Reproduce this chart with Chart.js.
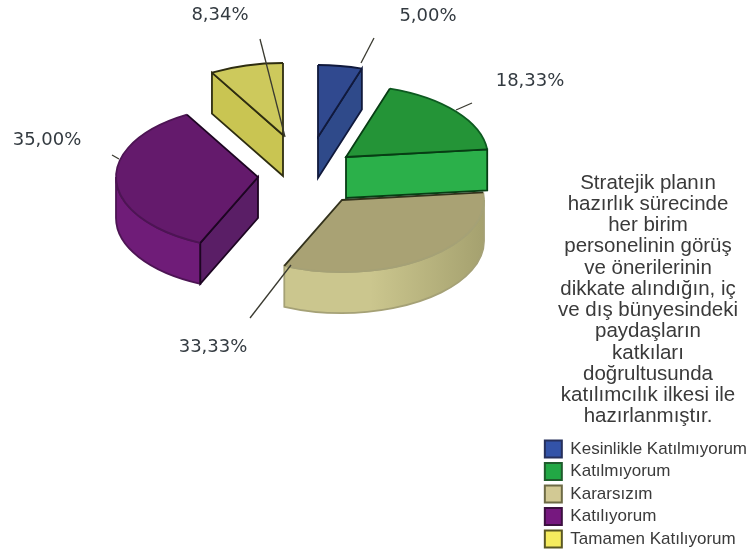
<!DOCTYPE html>
<html>
<head>
<meta charset="utf-8">
<style>
  html, body { margin: 0; background: #fff; }
  canvas { display: block; }
</style>
<script src="https://cdn.jsdelivr.net/npm/chart.js@4"></script>
</head>
<body>
<canvas id="pie" width="747" height="553"></canvas>
<script>
const categories = ["Kesinlikle Katılmıyorum", "Katılmıyorum", "Kararsızım", "Katılıyorum", "Tamamen Katılıyorum"];
const percentages = [5.00, 18.33, 33.33, 35.00, 8.34];
const titleLines = [
  "Stratejik planın", "hazırlık sürecinde", "her birim", "personelinin görüş",
  "ve önerilerinin", "dikkate alındığın, iç", "ve dış bünyesindeki", "paydaşların",
  "katkıları", "doğrultusunda", "katılımcılık ilkesi ile", "hazırlanmıştır."
];

// colours per slice
const legendColors = ["#3353a8", "#22a845", "#d2c994", "#76187f", "#f6ec5e"];
const legendBorders = ["#26305c", "#1f5c2c", "#6d6a45", "#3c1040", "#5a5722"];
const faceColors = ["#30498f", "#249437", "#a9a274", "#641a6c", "#cdc95c"];
const cutWallColors = ["#2f4a8a", "#2bb04a", "#a9a274", "#5a1e66", "#c9c552"];
const outerWallColors = ["#2f4a8a", "#2bb04a", "#cbc68e", "#6f1c78", "#c9c552"];
const edgeColors = ["#10193c", "#073d14", "#33321c", "#1d0522", "#2e2d10"];
const arcEdgeColors = ["#10193c", "#0d5a20", "#a5a176", "#4d1454", "#2e2d10"];

// how far each slice is pulled out of the pie, in px
const explodeX = [11, 39, 35, -49, -24];
const explodeY = [-33, -13, 30, 7, -35];

// percentage labels and their leader lines
const labelX = [428, 530, 213, 47, 220];
const labelY = [16, 81, 347, 140, 15];
const leaderLines = [
  [374, 38, 361, 63],
  [472, 103, 456, 110],
  [250, 318, 291, 265],
  [112, 155, 119, 159],
  [260, 39, 285, 137]
];

const pieCenter = { x: 307, y: 170 };
const pieRadius = 142;
const tilt = 0.507;
const depth = 41;
const drawOrder = [2, 3, 4, 0, 1];

function sliceFace(ctx, x, y, arc) {
  ctx.beginPath();
  ctx.moveTo(x, y);
  ctx.ellipse(x, y, arc.outerRadius, arc.outerRadius * tilt, 0, arc.startAngle, arc.endAngle);
  ctx.closePath();
}

function cutWall(ctx, x, y, arc, angle, i) {
  const px = x + arc.outerRadius * Math.cos(angle);
  const py = y + arc.outerRadius * tilt * Math.sin(angle);
  ctx.beginPath();
  ctx.moveTo(x, y);
  ctx.lineTo(px, py);
  ctx.lineTo(px, py + depth);
  ctx.lineTo(x, y + depth);
  ctx.closePath();
  ctx.fillStyle = cutWallColors[i];
  ctx.fill();
  ctx.strokeStyle = edgeColors[i];
  ctx.stroke();
}

function outerWall(ctx, x, y, arc, i) {
  const a0 = Math.max(arc.startAngle, 0);
  const a1 = Math.min(arc.endAngle, Math.PI);
  if (a1 <= a0) return;
  const r = arc.outerRadius;
  ctx.beginPath();
  ctx.ellipse(x, y, r, r * tilt, 0, a0, a1);
  ctx.ellipse(x, y + depth, r, r * tilt, 0, a1, a0, true);
  ctx.closePath();
  const shade = ctx.createLinearGradient(x - r, 0, x + r, 0);
  shade.addColorStop(0, outerWallColors[i]);
  shade.addColorStop(0.6, outerWallColors[i]);
  shade.addColorStop(1, i === 2 ? "#a5a16f" : outerWallColors[i]);
  ctx.fillStyle = shade;
  ctx.fill();
  ctx.strokeStyle = arcEdgeColors[i];
  ctx.stroke();
}

function drawSlice(ctx, arc, i) {
  const x = arc.x + explodeX[i];
  const y = arc.y + explodeY[i];
  ctx.lineWidth = 1.8;

  // only walls that face the viewer get painted
  outerWall(ctx, x, y, arc, i);
  if (Math.cos(arc.startAngle) < -0.01) cutWall(ctx, x, y, arc, arc.startAngle, i);
  if (Math.cos(arc.endAngle) > 0.01) cutWall(ctx, x, y, arc, arc.endAngle, i);

  sliceFace(ctx, x, y, arc);
  ctx.fillStyle = faceColors[i];
  ctx.fill();

  // rim of the top face, softer than the straight cut edges
  ctx.beginPath();
  ctx.ellipse(x, y, arc.outerRadius, arc.outerRadius * tilt, 0, arc.startAngle, arc.endAngle);
  ctx.strokeStyle = arcEdgeColors[i];
  ctx.stroke();

  ctx.beginPath();
  ctx.moveTo(x + arc.outerRadius * Math.cos(arc.startAngle), y + arc.outerRadius * tilt * Math.sin(arc.startAngle));
  ctx.lineTo(x, y);
  ctx.lineTo(x + arc.outerRadius * Math.cos(arc.endAngle), y + arc.outerRadius * tilt * Math.sin(arc.endAngle));
  ctx.strokeStyle = edgeColors[i];
  ctx.stroke();
}

const tiltedPie = {
  id: "tiltedPie",
  afterLayout(chart) {
    // the legend sits in the corner, so the pie keeps its own box
    const area = chart.chartArea;
    area.left = 0;
    area.top = 0;
    area.right = pieCenter.x * 2;
    area.bottom = pieCenter.y * 2;
    area.width = area.right;
    area.height = area.bottom;

    // nudge the legend into the right margin
    chart.legend.left += 10;
    chart.legend.right += 10;
  },
  beforeDatasetsDraw(chart) {
    const ctx = chart.ctx;
    const arcs = chart.getDatasetMeta(0).data;
    ctx.save();
    drawOrder.forEach(i => drawSlice(ctx, arcs[i], i));

    ctx.strokeStyle = "#3a3a30";
    ctx.lineWidth = 1.3;
    leaderLines.forEach(l => {
      ctx.beginPath();
      ctx.moveTo(l[0], l[1]);
      ctx.lineTo(l[2], l[3]);
      ctx.stroke();
    });

    ctx.fillStyle = "#333a40";
    ctx.font = '18px "DejaVu Sans"';
    ctx.textAlign = "center";
    ctx.textBaseline = "middle";
    percentages.forEach((v, i) => {
      ctx.fillText(v.toFixed(2).replace(".", ",") + "%", labelX[i], labelY[i]);
    });

    // wrapped caption above the legend
    ctx.fillStyle = "#3a3a3a";
    ctx.font = '20.5px "Liberation Sans"';
    titleLines.forEach((line, i) => {
      ctx.fillText(line, 648, 183 + i * 21.25);
    });
    ctx.restore();
    return false;
  }
};

new Chart(document.getElementById("pie"), {
  type: "pie",
  data: {
    labels: categories,
    datasets: [{
      data: percentages,
      backgroundColor: legendColors,
      borderColor: legendBorders,
      borderWidth: 2
    }]
  },
  options: {
    responsive: false,
    animation: false,
    radius: pieRadius,
    plugins: {
      tooltip: { enabled: false },
      legend: {
        position: "right",
        align: "end",
        labels: {
          boxWidth: 17,
          boxHeight: 17,
          padding: 5.5,
          color: "#3a3a3a",
          font: { family: "Liberation Sans", size: 17 }
        }
      }
    }
  },
  plugins: [tiltedPie]
});
</script>
</body>
</html>
